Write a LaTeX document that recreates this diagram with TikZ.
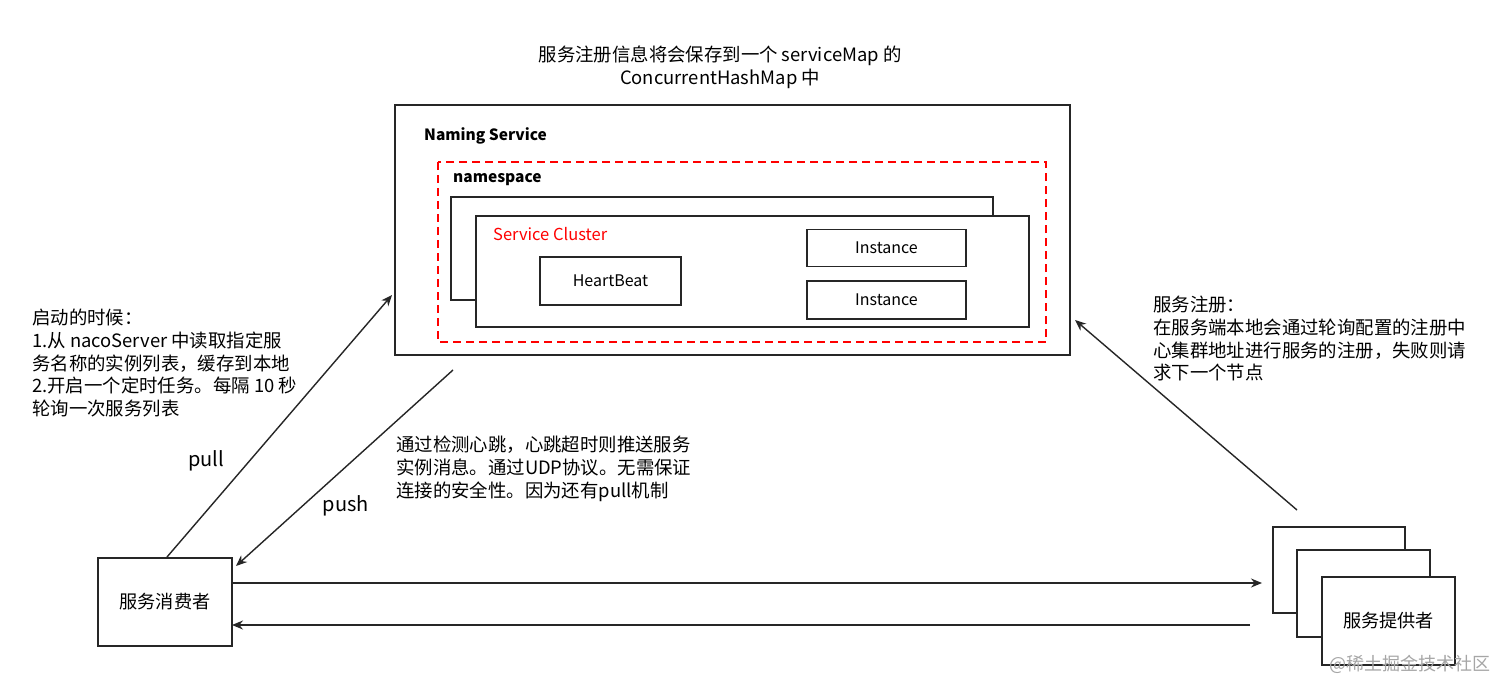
\documentclass[tikz,border=0pt]{standalone}
\usepackage{fontspec}
\setmainfont{Noto Sans CJK SC}
\usetikzlibrary{arrows.meta}
\begin{document}
\begin{tikzpicture}[x=1pt,y=-1pt,
  box/.style={draw=black!85,line width=1.4pt,fill=white},
  arr/.style={draw=black!85,line width=1.4pt,-{Stealth[length=11pt,width=9pt]}},
  txt/.style={font=\fontsize{18.4}{22.7}\selectfont,align=left,anchor=north west,inner sep=0},
  sm/.style={font=\fontsize{16}{18}\selectfont,inner sep=0}]
\useasboundingbox (0,0) rectangle (1512,696);
\fill[white] (0,0) rectangle (1512,696);
\node[font=\fontsize{18.4}{22.7}\selectfont,align=center] (title) at (720,67) {服务注册信息将会保存到一个 serviceMap 的\\ConcurrentHashMap 中};
\draw[box] (395,105) rectangle (1070,355);
\node[sm,anchor=west,font=\fontsize{15.5}{18}\selectfont\bfseries] (ns) at (424,136) {Naming Service};
\draw[red,dashed,line width=1.6pt,dash pattern=on 8pt off 5pt] (438,162) rectangle (1046,342);
\node[sm,anchor=west,font=\fontsize{15.5}{18}\selectfont\bfseries] (nsp) at (453,180) {namespace};
\draw[box] (451,197) rectangle (993,300);
\draw[box] (476,216) rectangle (1029,327);
\node[sm,anchor=west,text=red,font=\fontsize{16.5}{18}\selectfont] (sc) at (493,234) {Service Cluster};
\node[box,minimum width=141pt,minimum height=48pt,sm] (hb) at (610.5,281) {HeartBeat};
\node[box,minimum width=159pt,minimum height=37pt,sm] (i1) at (886.5,248) {Instance};
\node[box,minimum width=159pt,minimum height=38pt,sm] (i2) at (886.5,300) {Instance};
\node[box,minimum width=134pt,minimum height=88pt,font=\fontsize{18.2}{20}\selectfont] (cons) at (165,602) {服务消费者};
\node[box,minimum width=132pt,minimum height=86pt] (p1) at (1339,570) {};
\node[box,minimum width=133pt,minimum height=87pt] (p2) at (1363.5,593.5) {};
\node[box,minimum width=133pt,minimum height=88pt,font=\fontsize{18.2}{20}\selectfont] (p3) at (1388.5,621) {服务提供者};
\coordinate (pullS) at (167,557);
\coordinate (pullE) at (392,295);
\coordinate (pushS) at (453,370);
\coordinate (pushE) at (236,566);
\coordinate (regS) at (1297,510);
\coordinate (regE) at (1075,320);
\coordinate (h1S) at (232,583);
\coordinate (h1E) at (1262,583);
\coordinate (h2S) at (1250,625);
\coordinate (h2E) at (232,625);
\draw[arr] (pullS) -- (pullE);
\draw[arr] (pushS) -- (pushE);
\draw[arr] (regS) -- (regE);
\draw[arr] (h1S) -- (h1E);
\draw[arr] (h2S) -- (h2E);
\node[font=\fontsize{20}{24}\selectfont] (pull) at (206,461) {pull};
\node[font=\fontsize{20}{24}\selectfont] (push) at (346,506) {push};
\node[txt] (lt) at (32,309) {启动的时候：\\1.从 nacoServer 中读取指定服\\务名称的实例列表，缓存到本地\\2.开启一个定时任务。每隔 10 秒\\轮询一次服务列表};
\node[txt] (mt) at (396,436) {通过检测心跳，心跳超时则推送服务\\实例消息。通过UDP协议。无需保证\\连接的安全性。因为还有pull机制};
\node[txt] (rt) at (1153,296) {服务注册：\\在服务端本地会通过轮询配置的注册中\\心集群地址进行服务的注册，失败则请\\求下一个节点};
\node[font=\fontsize{18}{20}\selectfont,text=black!35,anchor=east] (wm) at (1494,664) {@稀土掘金技术社区};
\end{tikzpicture}
\end{document}
